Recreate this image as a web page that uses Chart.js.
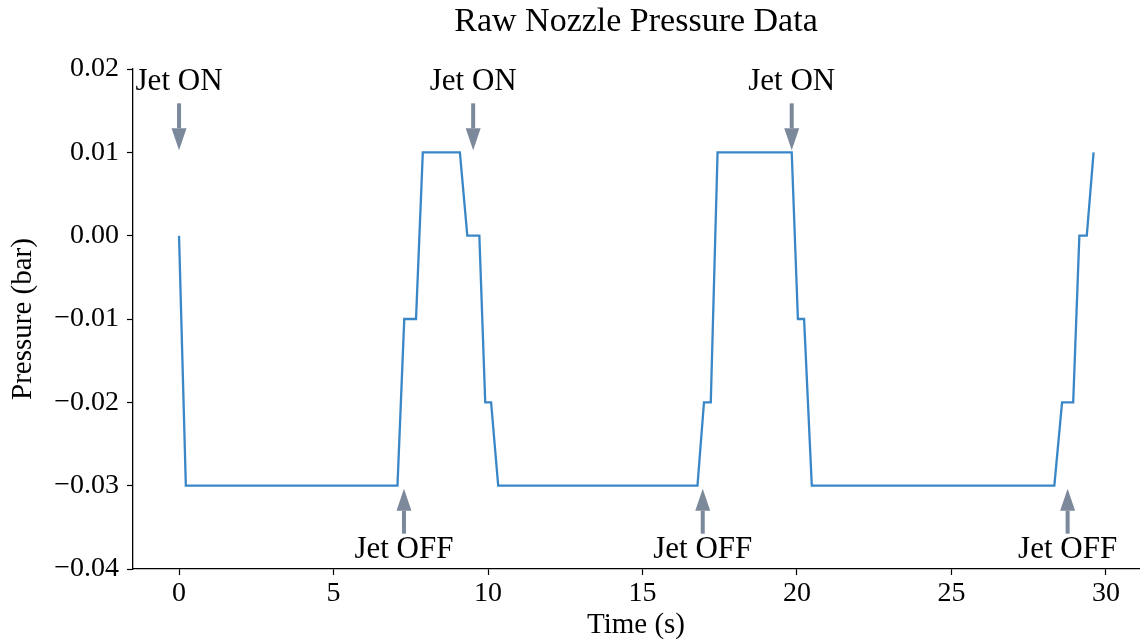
<!DOCTYPE html>
<html>
<head>
<meta charset="utf-8">
<script src="https://cdn.jsdelivr.net/npm/chart.js@4"></script>
<style>
  html, body { margin: 0; padding: 0; background: #fff; }
  #wrap { width: 1143px; height: 643px; }
</style>
</head>
<body>
<div id="wrap"><canvas id="pressureChart" width="1143" height="643"></canvas></div>
<script>
// raw samples (corner points of the trace)
const time = [0, 0.22, 7.07, 7.29, 7.67, 7.89, 9.09, 9.33, 9.72, 9.91, 10.10, 10.33,
    16.78, 16.99, 17.21, 17.43, 19.83, 20.03, 20.23, 20.48,
    28.33, 28.58, 28.94, 29.14, 29.38, 29.60];
const pressure = [0.00, -0.03, -0.03, -0.01, -0.01, 0.01, 0.01, 0.00, 0.00, -0.02, -0.02, -0.03,
    -0.03, -0.02, -0.02, 0.01, 0.01, -0.01, -0.01, -0.03,
    -0.03, -0.02, -0.02, 0.00, 0.00, 0.01];

const xTicks = [0, 5, 10, 15, 20, 25, 30];
const yTicks = [-0.04, -0.03, -0.02, -0.01, 0.00, 0.01, 0.02];

// annotations
const jetOnTimes = [0, 9.52, 19.83];
const jetOnLevel = 0.01;
const jetOffTimes = [7.28, 16.95, 28.76];
const jetOffLevel = -0.03;

const chartTitle = 'Raw Nozzle Pressure Data';
const serif = '"Liberation Serif", "Times New Roman", serif';
const arrowColor = '#7c899b';

function drawArrow(ctx, x, y0, y1) {
    // y0 = tail, y1 = tip
    let dir = y1 > y0 ? 1 : -1;
    let headLen = 22, headHalf = 7.5;
    ctx.fillStyle = arrowColor;
    ctx.fillRect(x - 2, Math.min(y0, y1 - dir * headLen), 4, Math.abs(y1 - dir * headLen - y0));
    ctx.beginPath();
    ctx.moveTo(x, y1);
    ctx.lineTo(x - headHalf, y1 - dir * headLen);
    ctx.lineTo(x + headHalf, y1 - dir * headLen);
    ctx.closePath();
    ctx.fill();
}

const annotations = {
    id: 'jetAnnotations',
    afterDatasetsDraw(chart) {
        let ctx = chart.ctx;
        let xs = chart.scales.x, ys = chart.scales.y;
        let area = chart.chartArea;
        ctx.save();
        ctx.textAlign = 'center';
        ctx.textBaseline = 'middle';
        // title centred over the plot area
        ctx.fillStyle = '#000';
        ctx.font = '34px ' + serif;
        ctx.fillText(chartTitle, (area.left + area.right) / 2, 22);

        ctx.font = '31px ' + serif;
        jetOnTimes.forEach(t => {
            let px = xs.getPixelForValue(t);
            let tip = ys.getPixelForValue(jetOnLevel) - 2;
            drawArrow(ctx, px, tip - 47, tip);
            ctx.fillStyle = '#000';
            ctx.fillText('Jet ON', px, tip - 68);
        });
        jetOffTimes.forEach(t => {
            let px = xs.getPixelForValue(t);
            let tip = ys.getPixelForValue(jetOffLevel) + 3;
            drawArrow(ctx, px, tip + 45, tip);
            ctx.fillStyle = '#000';
            ctx.fillText('Jet OFF', px, tip + 61);
        });
        ctx.restore();
    }
};

new Chart(document.getElementById('pressureChart'), {
    type: 'line',
    data: {
        datasets: [{
            data: time.map((t, i) => ({ x: t, y: pressure[i] })),
            borderColor: '#3a87c8',
            borderWidth: 2.3,
            pointRadius: 0,
            tension: 0,
            fill: false
        }]
    },
    options: {
        responsive: false,
        animation: false,
        devicePixelRatio: 1,
        layout: { padding: { left: 0, right: 4, top: 69, bottom: 0 } },
        plugins: {
            legend: { display: false },
            tooltip: { enabled: false },
            title: { display: false }
        },
        scales: {
            x: {
                type: 'linear',
                min: -1.49,
                max: 31.07,
                afterBuildTicks: s => { s.ticks = xTicks.map(v => ({ value: v })); },
                afterFit: s => { s.height = 74; },
                border: { color: '#000', width: 1.3 },
                grid: { drawOnChartArea: false, drawTicks: true, tickLength: 6, tickColor: '#000', tickWidth: 1.2 },
                ticks: {
                    color: '#000',
                    font: { family: serif, size: 28 },
                    padding: 2,
                    maxRotation: 0,
                    callback: v => String(v)
                },
                title: {
                    display: true,
                    text: 'Time (s)',
                    color: '#000',
                    font: { family: serif, size: 29 },
                    padding: { top: 0, bottom: 0 }
                }
            },
            y: {
                type: 'linear',
                min: -0.04,
                max: 0.02,
                afterBuildTicks: s => { s.ticks = yTicks.map(v => ({ value: v })); },
                afterFit: s => { s.width = 133; },
                border: { color: '#000', width: 1.3 },
                grid: { drawOnChartArea: false, drawTicks: true, tickLength: 6, tickColor: '#000', tickWidth: 1.2 },
                ticks: {
                    color: '#000',
                    font: { family: serif, size: 28 },
                    padding: 8,
                    callback: v => v.toFixed(2).replace('-', '\u2212')
                },
                title: {
                    display: true,
                    text: 'Pressure (bar)',
                    color: '#000',
                    font: { family: serif, size: 29 },
                    padding: { top: 6, bottom: 0 }
                }
            }
        }
    },
    plugins: [annotations]
});
</script>
</body>
</html>
